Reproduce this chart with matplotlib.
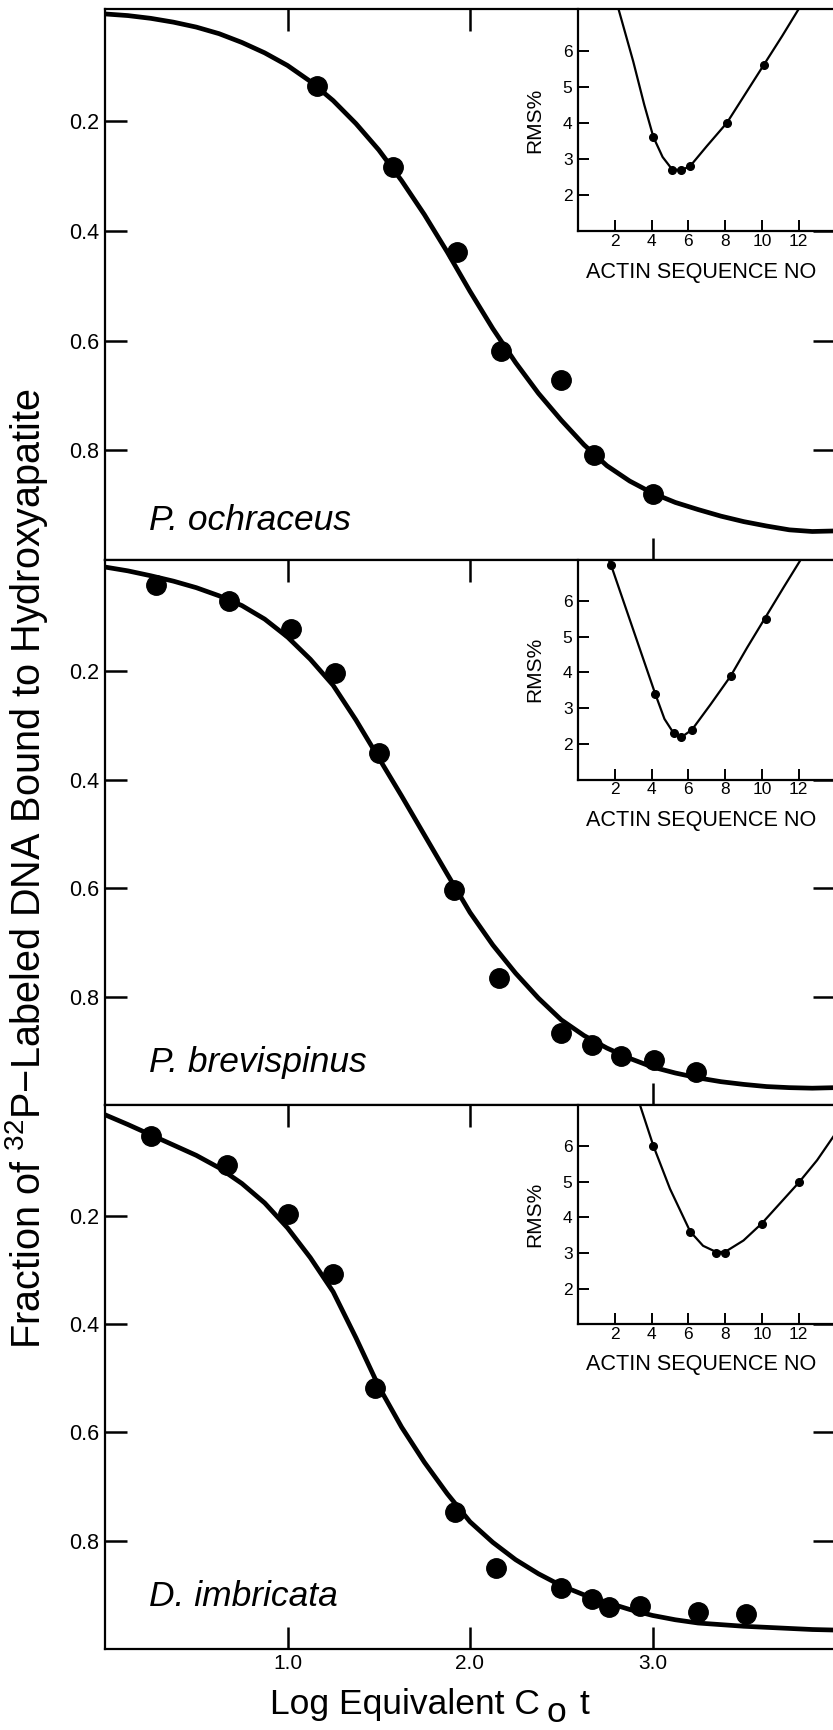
import matplotlib
matplotlib.use("Agg")
import matplotlib.pyplot as plt

# Tipografía tipo Helvetica y mathtext con la misma familia
plt.rcParams['font.family'] = ['Liberation Sans', 'DejaVu Sans']
plt.rcParams['mathtext.fontset'] = 'custom'
plt.rcParams['mathtext.rm'] = 'Liberation Sans'
plt.rcParams['mathtext.it'] = 'Liberation Sans:italic'

# Eje x común de las curvas ajustadas: log Cot equivalente
log_cot_curva = [0.0, 0.125, 0.25, 0.375, 0.5, 0.625, 0.75, 0.875, 1.0,
                 1.125, 1.25, 1.375, 1.5, 1.625, 1.75, 1.875, 2.0,
                 2.125, 2.25, 2.375, 2.5, 2.625, 2.75, 2.875, 3.0,
                 3.125, 3.25, 3.375, 3.5, 3.625, 3.75, 3.875, 4.0]

especies = ["P. ochraceus", "P. brevispinus", "D. imbricata"]

# Curvas ajustadas (fracción unida a hidroxiapatita)
curva_ochraceus = [0.004, 0.007, 0.012, 0.019, 0.028, 0.040, 0.056, 0.075, 0.098,
                   0.127, 0.162, 0.204, 0.252, 0.308, 0.370, 0.438, 0.510,
                   0.578, 0.640, 0.696, 0.745, 0.790, 0.828, 0.856, 0.878,
                   0.895, 0.908, 0.920, 0.930, 0.938, 0.945, 0.948, 0.947]
curva_brevispinus = [0.008, 0.015, 0.024, 0.034, 0.046, 0.061, 0.079, 0.104, 0.137,
                     0.178, 0.226, 0.290, 0.360, 0.430, 0.502, 0.574, 0.645,
                     0.705, 0.757, 0.803, 0.843, 0.872, 0.895, 0.914, 0.930,
                     0.941, 0.950, 0.957, 0.962, 0.966, 0.968, 0.969, 0.968]
curva_imbricata = [0.013, 0.031, 0.050, 0.069, 0.088, 0.111, 0.140, 0.176, 0.222,
                   0.277, 0.340, 0.425, 0.515, 0.590, 0.655, 0.713, 0.765,
                   0.803, 0.835, 0.861, 0.883, 0.900, 0.914, 0.927, 0.938,
                   0.946, 0.952, 0.955, 0.958, 0.960, 0.962, 0.964, 0.965]

# Puntos experimentales
x_ochraceus = [1.16, 1.58, 1.93, 2.17, 2.50, 2.68, 3.00]
y_ochraceus = [0.136, 0.283, 0.439, 0.618, 0.672, 0.808, 0.879]
x_brevispinus = [0.28, 0.68, 1.02, 1.26, 1.50, 1.91, 2.16, 2.50, 2.67, 2.83, 3.01, 3.24]
y_brevispinus = [0.042, 0.070, 0.122, 0.203, 0.351, 0.603, 0.765, 0.867, 0.889, 0.909, 0.917, 0.940]
x_imbricata = [0.25, 0.67, 1.00, 1.25, 1.48, 1.92, 2.14, 2.50, 2.67, 2.76, 2.93, 3.25, 3.51]
y_imbricata = [0.052, 0.106, 0.197, 0.307, 0.518, 0.747, 0.850, 0.887, 0.908, 0.923, 0.921, 0.932, 0.935]

# Recuadros: RMS% frente al número de secuencias de actina
rms_x_ochraceus = [4.1, 5.1, 5.6, 6.1, 8.1, 10.1]
rms_y_ochraceus = [3.6, 2.7, 2.7, 2.8, 4.0, 5.6]
rms_x_brevispinus = [1.8, 4.2, 5.2, 5.6, 6.2, 8.3, 10.2]
rms_y_brevispinus = [7.0, 3.4, 2.3, 2.2, 2.4, 3.9, 5.5]
rms_x_imbricata = [4.1, 6.1, 7.5, 8.0, 10.0, 12.0]
rms_y_imbricata = [6.0, 3.6, 3.0, 3.0, 3.8, 5.0]

rms_cx_ochraceus = [2.2, 3.0, 3.6, 4.1, 4.6, 5.1, 5.6, 6.1, 7.0, 8.1, 9.1, 10.1, 11.1, 12.0]
rms_cy_ochraceus = [7.15, 5.7, 4.5, 3.6, 3.05, 2.72, 2.68, 2.8, 3.35, 4.0, 4.8, 5.6, 6.4, 7.15]
rms_cx_brevispinus = [1.67, 1.8, 3.0, 4.2, 4.7, 5.2, 5.6, 6.2, 7.2, 8.3, 9.2, 10.2, 11.2, 12.1]
rms_cy_brevispinus = [7.15, 7.0, 5.2, 3.4, 2.7, 2.3, 2.18, 2.4, 3.1, 3.9, 4.7, 5.55, 6.4, 7.15]
rms_cx_imbricata = [3.4, 4.1, 5.0, 6.1, 6.8, 7.5, 8.0, 9.0, 10.0, 11.0, 12.0, 13.0, 14.0, 15.0]
rms_cy_imbricata = [7.1, 6.0, 4.8, 3.6, 3.2, 3.03, 3.03, 3.35, 3.83, 4.4, 4.97, 5.6, 6.35, 7.15]

paneles = [
    (curva_ochraceus, x_ochraceus, y_ochraceus,
     rms_x_ochraceus, rms_y_ochraceus, rms_cx_ochraceus, rms_cy_ochraceus, 0.945),
    (curva_brevispinus, x_brevispinus, y_brevispinus,
     rms_x_brevispinus, rms_y_brevispinus, rms_cx_brevispinus, rms_cy_brevispinus, 0.94),
    (curva_imbricata, x_imbricata, y_imbricata,
     rms_x_imbricata, rms_y_imbricata, rms_cx_imbricata, rms_cy_imbricata, 0.92),
]

W, H = 833, 1730
limites_px = [(9, 560), (560, 1105), (1105, 1649)]

fig = plt.figure(figsize=(W / 100, H / 100), dpi=100)

for i, (curva, px, py, rx, ry, rcx, rcy, y_nombre) in enumerate(paneles):
    arriba, abajo = limites_px[i]
    ax = fig.add_axes([105 / W, 1 - abajo / H, 730 / W, (abajo - arriba) / H])

    ax.plot(log_cot_curva, curva, "-", color="black", linewidth=3.4,
            solid_joinstyle="round", solid_capstyle="round")
    ax.plot(px, py, "o", color="black", markersize=14, zorder=3)

    ax.set_xlim(0, 4.0)
    ax.set_ylim(1.0, -0.005)
    ax.set_yticks([0.2, 0.4, 0.6, 0.8])
    ax.set_yticklabels(["0.2", "0.4", "0.6", "0.8"])
    ax.set_xticks([1.0, 2.0, 3.0])
    ax.tick_params(axis="y", direction="in", length=16, width=1.8,
                   left=True, right=True, labelsize=15.5, pad=4)

    if i < 2:
        ax.tick_params(axis="x", direction="in", length=16, width=1.8,
                       top=True, bottom=False, labelbottom=False)
        # Solo la marca de 3.0 en el borde inferior
        sec = ax.secondary_xaxis("bottom")
        sec.set_xticks([3.0])
        sec.set_xticklabels([])
        sec.tick_params(direction="in", length=16, width=1.8)
        sec.spines["bottom"].set_visible(False)
    else:
        ax.set_xticklabels(["1.0", "2.0", "3.0"])
        ax.tick_params(axis="x", direction="in", length=16, width=1.8,
                       top=True, bottom=True, labelsize=15, pad=3.5)

    for sp in ax.spines.values():
        sp.set_linewidth(1.6)
        sp.set_zorder(6)

    ax.text(0.24, y_nombre, especies[i], style="italic", fontsize=25.5,
            va="baseline", ha="left")

    # Recuadro con el error RMS
    ins = ax.inset_axes([0.648, 0.597, 0.403, 0.403])
    ins.set_facecolor("white")
    ins.plot(rcx, rcy, "-", color="black", linewidth=1.6)
    ins.plot(rx, ry, "o", color="black", markersize=5.5)
    ins.set_xlim(0, 16)
    ins.set_ylim(1, 7.15)
    ins.set_xticks([2, 4, 6, 8, 10, 12])
    ins.set_yticks([2, 3, 4, 5, 6])
    ins.tick_params(axis="x", direction="in", length=8, width=1.4, labelsize=12.5, pad=2)
    ins.tick_params(axis="y", direction="in", length=8, width=1.4, labelsize=12.5, pad=4)
    ins.spines["top"].set_visible(False)
    ins.spines["right"].set_visible(False)
    for lado in ("left", "bottom"):
        ins.spines[lado].set_linewidth(1.6)
    ins.set_ylabel("RMS%", fontsize=15)
    ins.yaxis.set_label_coords(-0.115, 0.5)
    ins.set_xlabel("ACTIN SEQUENCE NO", fontsize=15.6)
    ins.xaxis.set_label_coords(0.42, -0.21)
    ins.xaxis.label.set_va("baseline")

# Rótulo del eje x con el subíndice "o" desplazado hacia abajo
fig.text(270 / W, 1 - 1714 / H, "Log Equivalent C", ha="left", va="baseline", fontsize=25.5)
fig.text(547 / W, 1 - 1729.5 / H, "o", ha="left", va="bottom", fontsize=25.5)
fig.text(579 / W, 1 - 1714 / H, "t", ha="left", va="baseline", fontsize=25.5)

fig.text(27 / W, 1 - 869 / H,
         r"Fraction of $^\mathregular{32}$P$-$Labeled DNA Bound to Hydroxyapatite",
         rotation=90, ha="center", va="center", fontsize=28.5)

fig.savefig("out.png", dpi=100)
